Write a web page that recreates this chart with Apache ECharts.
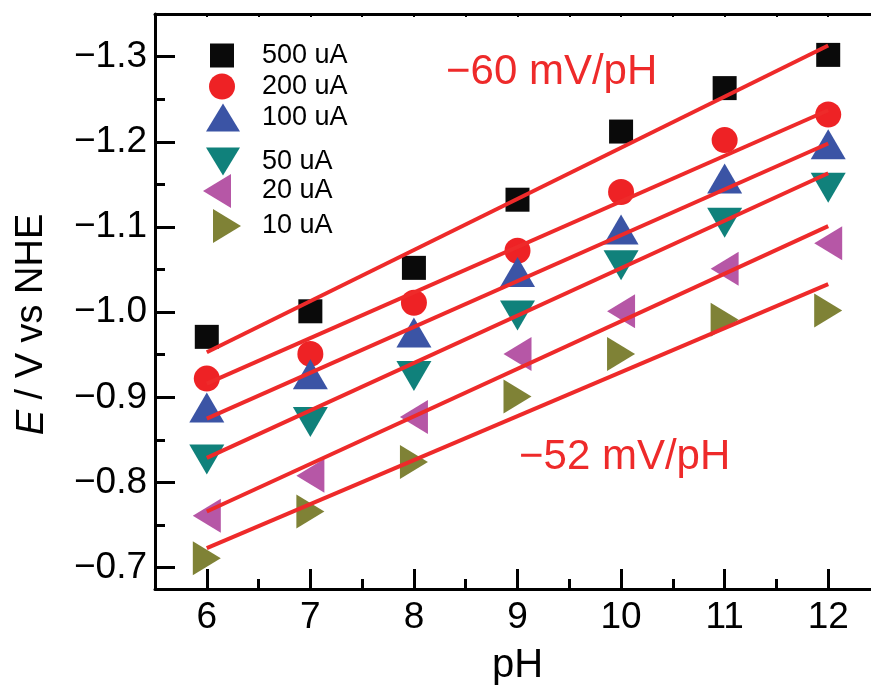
<!DOCTYPE html>
<html>
<head>
<meta charset="utf-8">
<script src="https://cdn.jsdelivr.net/npm/echarts@6/dist/echarts.min.js"></script>
<style>
html, body { margin: 0; padding: 0; background: #fff; }
#echarts { width: 871px; height: 687px; }
</style>
</head>
<body>
<div id="echarts"></div>
<script>
// pH values of the measured points
var phValues = [6, 7, 8, 9, 10, 11, 12];
var seriesNames = ['500 uA', '200 uA', '100 uA', '50 uA', '20 uA', '10 uA'];

// measured potentials (V vs NHE)
var e500 = [-0.971, -1.001, -1.052, -1.132, -1.212, -1.263, -1.302];
var e200 = [-0.922, -0.951, -1.011, -1.072, -1.141, -1.202, -1.232];
var e100 = [-0.888, -0.927, -0.976, -1.047, -1.097, -1.157, -1.197];
var e50  = [-0.827, -0.871, -0.925, -0.996, -1.055, -1.105, -1.146];
var e20  = [-0.761, -0.808, -0.877, -0.951, -1.001, -1.051, -1.081];
var e10  = [-0.711, -0.766, -0.824, -0.901, -0.951, -0.991, -1.002];

// fitted lines, values at both ends
var fitPh  = [6, 12];
var fit500 = [-0.953, -1.313];
var fit200 = [-0.916, -1.237];
var fit100 = [-0.875, -1.198];
var fit50  = [-0.829, -1.163];
var fit20  = [-0.766, -1.101];
var fit10  = [-0.723, -1.033];

// ticks
var xTicks = [6, 7, 8, 9, 10, 11, 12];
var xMinorTicks = [6.5, 7.5, 8.5, 9.5, 10.5, 11.5];
var yTicks = [-1.3, -1.2, -1.1, -1.0, -0.9, -0.8, -0.7];
var yMinorTicks = [-1.25, -1.15, -1.05, -0.95, -0.85, -0.75];

var allE = [e500, e200, e100, e50, e20, e10];
var allFit = [fit500, fit200, fit100, fit50, fit20, fit10];

var colors = ['#0a0a0a', '#ee2225', '#3b54a5', '#10817b', '#b657a6', '#7f8236'];
var symbols = ['rect', 'circle', 'triangle', 'triangle', 'triangle', 'triangle'];
var sizes = [[24, 24], 26, [35, 30], [35, 30], [34, 28], [34, 28]];
var rotates = [0, 0, 0, 180, 90, -90];

// legend: icons drawn already pointing the right way
var legendIcons = [
    'rect',
    'circle',
    'path://M17,0 L34,28 L0,28 Z',
    'path://M0,0 L34,0 L17,28 Z',
    'path://M0,17 L28,0 L28,34 Z',
    'path://M0,0 L28,17 L0,34 Z'
];
var legendIconSizes = [[24, 24], [26, 26], [34, 29], [34, 29], [28, 34], [28, 34]];
var legendRows = [54, 86, 118, 162, 191, 226];
var legendCx = [222, 222, 223, 223, 217, 227];
var legendTextX = 262;

var pair = function (xs, ys) {
    var out = [];
    for (var i = 0; i < xs.length; i++) out.push([xs[i], ys[i]]);
    return out;
};

var series = [];
var legends = [];
for (var k = 0; k < seriesNames.length; k++) {
    series.push({
        name: seriesNames[k],
        type: 'scatter',
        data: pair(phValues, allE[k]),
        symbol: symbols[k],
        symbolSize: sizes[k],
        symbolRotate: rotates[k],
        itemStyle: { color: colors[k], opacity: 1 },
        z: 2
    });
    var iw = legendIconSizes[k][0];
    var ih = legendIconSizes[k][1];
    legends.push({
        data: [{ name: seriesNames[k], icon: legendIcons[k] }],
        orient: 'vertical',
        left: legendCx[k] - iw / 2,
        top: legendRows[k] - ih / 2,
        itemWidth: iw,
        itemHeight: ih,
        padding: 0,
        symbolRotate: 0,
        selectedMode: false,
        textStyle: {
            fontFamily: 'Liberation Sans',
            fontSize: 27,
            color: '#000',
            padding: [0, 0, 0, legendTextX - (legendCx[k] + iw / 2 + 5)]
        }
    });
}
for (var m = 0; m < allFit.length; m++) {
    series.push({
        name: 'fit ' + seriesNames[m],
        type: 'line',
        data: pair(fitPh, allFit[m]),
        symbol: 'none',
        lineStyle: { color: '#ee2a2a', width: 4 },
        z: 3
    });
}

var axisLineStyle = { color: '#000', width: 3 };

var myChart = echarts.init(document.getElementById('echarts'));
var option = {
    animation: false,
    backgroundColor: '#fff',
    grid: {
        left: 155,
        right: -9,
        top: 14,
        bottom: 98,
        outerBoundsMode: 'none'
    },
    legend: legends,
    xAxis: [
        {
            type: 'value',
            min: 5.5,
            max: 12.5,
            position: 'bottom',
            splitLine: { show: false },
            axisLine: { lineStyle: axisLineStyle },
            axisTick: { inside: true, length: 20, lineStyle: { width: 3, color: '#000' }, customValues: xTicks },
            axisLabel: { customValues: xTicks, fontFamily: 'Liberation Sans', fontSize: 37, color: '#000', margin: 10 },
            name: 'pH',
            nameLocation: 'middle',
            nameGap: 57,
            nameTextStyle: { fontFamily: 'Liberation Sans', fontSize: 40, color: '#000' }
        },
        {
            type: 'value',
            min: 5.5,
            max: 12.5,
            position: 'bottom',
            splitLine: { show: false },
            axisLine: { show: false },
            axisTick: { inside: true, length: 10, lineStyle: { width: 3, color: '#000' }, customValues: xMinorTicks },
            axisLabel: { show: false }
        },
        {
            type: 'value',
            min: 5.5,
            max: 12.5,
            interval: 0.5,
            position: 'top',
            splitLine: { show: false },
            axisLine: { lineStyle: axisLineStyle },
            axisTick: { inside: true, length: 3, lineStyle: { width: 2, color: '#000' } },
            axisLabel: { show: false }
        }
    ],
    yAxis: [
        {
            type: 'value',
            inverse: true,
            min: -1.35,
            max: -0.675,
            position: 'left',
            splitLine: { show: false },
            axisLine: { lineStyle: axisLineStyle },
            axisTick: { inside: true, length: 20, lineStyle: { width: 3, color: '#000' }, customValues: yTicks },
            axisLabel: {
                customValues: yTicks,
                fontFamily: 'Liberation Sans',
                fontSize: 37,
                color: '#000',
                margin: 8,
                formatter: function (v) { return '\u2212' + Math.abs(v).toFixed(1); }
            },
            name: '{i|E} / V vs NHE',
            nameLocation: 'middle',
            nameGap: 104,
            nameTextStyle: {
                fontFamily: 'Liberation Sans',
                fontSize: 38,
                color: '#000',
                padding: [0, 46, 0, 0],
                rich: {
                    i: { fontStyle: 'italic', fontFamily: 'Liberation Sans', fontSize: 38, color: '#000' }
                }
            }
        },
        {
            type: 'value',
            inverse: true,
            min: -1.35,
            max: -0.675,
            position: 'left',
            splitLine: { show: false },
            axisLine: { show: false },
            axisTick: { inside: true, length: 10, lineStyle: { width: 3, color: '#000' }, customValues: yMinorTicks },
            axisLabel: { show: false }
        }
    ],
    graphic: [
        {
            type: 'text',
            x: 446,
            y: 72,
            style: { text: '\u221260 mV/pH', fill: '#ee2a2a', fontFamily: 'Liberation Sans', fontSize: 42, align: 'left', verticalAlign: 'middle' }
        },
        {
            type: 'text',
            x: 519,
            y: 457,
            style: { text: '\u221252 mV/pH', fill: '#ee2a2a', fontFamily: 'Liberation Sans', fontSize: 42, align: 'left', verticalAlign: 'middle' }
        }
    ],
    series: series
};
myChart.setOption(option);
</script>
</body>
</html>
